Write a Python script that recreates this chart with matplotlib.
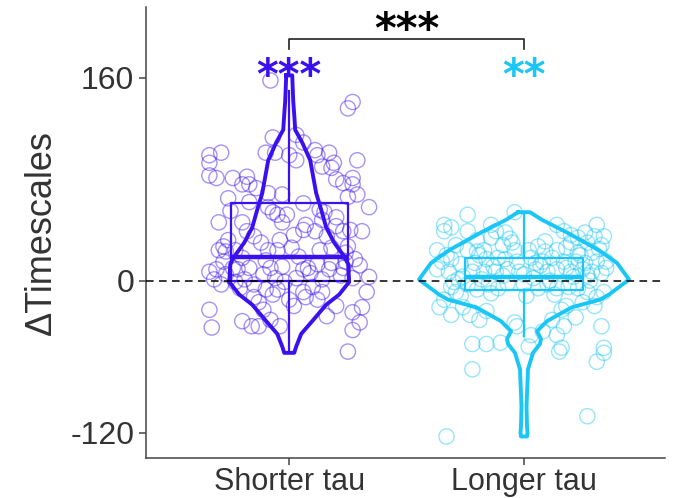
import matplotlib
matplotlib.use("Agg")
import matplotlib.pyplot as plt
import numpy as np

plt.rcParams['font.family'] = ['Liberation Sans', 'DejaVu Sans']
plt.rcParams['axes.unicode_minus'] = False

groups = ['Shorter tau', 'Longer tau']
colors = ['#3A10F0', '#19C6F5']

# jittered points (x offset from group centre, value)
short_jitter = [-0.08, 0.27, 0.25, -0.07, 0.03, 0.06, -0.34, -0.29, -0.34, -0.10, -0.06, 0.0, 0.03, 0.11, 0.12,
                0.17, 0.19, 0.29, -0.34, -0.31, -0.24, -0.18, -0.20, -0.17, -0.14, -0.09, -0.03, 0.14, 0.18, 0.20,
                0.23, 0.27, 0.27, 0.29, 0.25, 0.34, -0.26, -0.17, -0.09, -0.07, -0.05, -0.01, -0.03, 0.06, 0.13,
                0.15, 0.14, 0.20, -0.30, -0.20, -0.26, -0.28, -0.27, -0.30, -0.18, -0.15, -0.04, 0.02, 0.06, 0.07,
                0.11, 0.16, 0.20, 0.23, 0.26, 0.31, 0.25, 0.24, 0.18, 0.13, 0.01, -0.05, -0.09, -0.23,
                -0.34, -0.32, -0.29, -0.22, -0.17, -0.15, -0.11, -0.08, -0.03, -0.06, -0.02, 0.03, 0.06, 0.08,
                0.12, 0.17, 0.14, 0.10, 0.06, -0.05, -0.07, -0.10, -0.15, -0.13, -0.11, -0.20, -0.16, -0.13,
                -0.08, -0.04, -0.34, -0.33, 0.20, 0.27, 0.31, 0.27, 0.25, 0.33, 0.34, 0.27, 0.23, 0.24, 0.28,
                0.07, 0.12, 0.14, 0.0, -0.24, -0.27, -0.23, -0.19, -0.31, -0.20, -0.10, 0.04, 0.18, -0.28, 0.30,
                -0.21, 0.09, 0.22, -0.12, 0.16, -0.25, 0.02, 0.30]
short_vals = [158, 141, 136, 113, 115, 109, 99, 101, 93, 101, 101, 99, 95, 103, 99,
              101, 93, 95, 83, 81, 81, 82, 76, 76, 73, 69, 68, 90, 89, 80,
              77, 81, 76, 68, 66, 58, 65, 62, 58, 54, 52, 52, 46, 61, 56,
              54, 48, 50, 46, 46, 32, 27, 23, 24, 39, 35, 32, 36, 40, 44,
              39, 35, 43, 39, 40, 39, 27, 22, 26, 24, 26, 24, 24, 24,
              7, 1, -3, 9, 10, -3, 5, 10, 11, 2, -1, 2, 9, 10,
              13, 9, 1, -5, -9, -7, -11, -7, -13, -17, -23, -32, -36, -36,
              -31, -36, -23, -37, -20, -25, -21, -39, -56, -9, 3, 2, 10, 15, 17,
              -13, -15, -9, -15, 10, 5, -1, 1, 9, 18, 16, 19, 14, 15, 12,
              -6, 6, 4, 30, -28, 55, -20, -33]

long_jitter = [-0.04, -0.24, -0.34, -0.34, -0.31, -0.24, -0.14, -0.12, -0.14, -0.08, 0.14, 0.17, 0.20, 0.23,
               0.26, 0.31, 0.30, 0.34, 0.27, 0.33, -0.29, -0.37, -0.24, -0.20, -0.17, -0.09, -0.05, -0.04,
               0.02, 0.06, 0.09, 0.14, 0.18, 0.23, 0.29, -0.35, -0.31, -0.27, -0.21, -0.16, -0.11, -0.08,
               -0.03, 0.03, 0.08, 0.12, 0.17, 0.22, 0.26, 0.31, 0.35, -0.37, -0.32, -0.22, -0.17, -0.12,
               -0.07, -0.02, 0.05, 0.10, 0.14, 0.20, 0.25, 0.29, 0.33, 0.35,
               -0.31, -0.28, -0.34, -0.29, -0.24, -0.20, -0.15, -0.11, -0.07, 0.0, 0.06, 0.10, 0.14, 0.19,
               0.23, 0.27, 0.31, 0.34, -0.36, -0.31, -0.26, -0.23, -0.19, -0.16, -0.04, -0.03, 0.12, 0.16,
               0.18, 0.22, 0.25, 0.30, 0.33, 0.14, 0.17, -0.22, -0.16, -0.10, 0.03, 0.08, 0.02, 0.16, 0.34,
               -0.22, 0.31, 0.34, 0.27, -0.33, 0.15,
               -0.26, -0.18, -0.09, 0.04, 0.11, 0.21, -0.13, 0.07, 0.27, -0.30, 0.0, 0.18,
               -0.33, -0.20, -0.06, 0.09, 0.24, 0.32, -0.27, -0.14, 0.01, 0.13, 0.28, -0.19, 0.05, 0.20]
long_vals = [54, 52, 44, 39, 42, 39, 44, 39, 34, 38, 44, 39, 36, 34,
             38, 44, 35, 35, 30, 28, 28, 24, 24, 23, 24, 28, 30, 24,
             24, 27, 23, 24, 26, 22, 22, 15, 17, 13, 14, 17, 18, 17,
             15, 18, 15, 18, 15, 15, 14, 15, 10, 9, 7, 7, 7, 7,
             9, 7, 9, 7, 9, 7, 9, 7, 6, 15,
             -5, 1, -15, -9, -3, -7, -3, -6, -2, -3, -6, -3, -6, -5,
             -6, -9, -13, -9, -21, -27, -21, -27, -31, -24, -33, -36, -31, -23,
             -20, -29, -17, -20, -36, -43, -36, -50, -50, -49, -43, -40, -52, -53, -53,
             -70, -64, -57, -107, -123, -56,
             3, 1, 4, 2, 0, 3, 11, 12, 4, -1, 5, 10,
             20, 32, 33, 31, 20, 25, -12, -10, -12, -11, 0, 20, 14, 30]

# violin outlines: value and half width (density scaled to the drawn width)
short_dens_y = [162, 142, 131, 119, 109, 95, 69, 56, 42, 30, 19, 13, -1, -11, -19, -32, -42, -52, -57]
short_dens_w = [3, 4, 5, 6, 13, 21, 27, 32, 37, 45, 55, 59, 60, 50, 37, 23, 12, 7, 5]
long_dens_y = [54, 48, 38, 24, 14, 1, -1, -11, -15, -21, -28, -32, -40, -46, -50, -57, -70, -80, -99, -115, -120, -123]
long_dens_w = [6, 18, 43, 75, 93, 105, 102, 85, 76, 48, 32, 23, 13, 17, 16, 9, 4, 3.5, 2.5, 3, 3.5, 3]

# box summaries: whisker low, Q1, median, Q3, whisker high
short_box = [-56, 0, 19, 61, 150]
long_box = [-44, -7, 3, 18, 54]

fig = plt.figure(figsize=(6.75, 4.98), dpi=100)
ax = fig.add_axes([0.2163, 0.0803, 0.7687, 0.9057])

dens_y = [short_dens_y, long_dens_y]
dens_w = [short_dens_w, long_dens_w]
jit = [short_jitter, long_jitter]
vals = [short_vals, long_vals]
boxes = [short_box, long_box]
px_per_unit = 235.0

for i in range(2):
    pos = i + 1
    c = colors[i]
    ax.scatter(pos + np.array(jit[i]), vals[i], s=120, facecolors='none',
               edgecolors=c, alpha=0.45, linewidths=1.0, zorder=2)
    w = np.array(dens_w[i]) / px_per_unit
    yy = np.array(dens_y[i])
    xs = np.concatenate([pos - w, (pos + w)[::-1], [pos - w[0]]])
    ys = np.concatenate([yy, yy[::-1], [yy[0]]])
    ax.plot(xs, ys, color=c, lw=2.8, solid_joinstyle='round', zorder=3)
    b = boxes[i]
    st = dict(whislo=b[0], q1=b[1], med=b[2], q3=b[3], whishi=b[4], fliers=[])
    ax.bxp([st], positions=[pos], widths=0.5, showcaps=False, showfliers=False,
           boxprops=dict(color=c, lw=1.6), whiskerprops=dict(color=c, lw=1.6),
           medianprops=dict(color=c, lw=3.2), manage_ticks=False, zorder=4)

ax.axhline(0, color='black', lw=1.1, ls=(0, (5, 3.5)), zorder=5)

# significance marks
star_font = dict(family='DejaVu Sans', fontsize=30, fontweight='bold', ha='center', va='center')
ax.text(1, 161, '***', color=colors[0], **star_font)
ax.text(2, 161, '**', color=colors[1], **star_font)
ax.plot([1, 1, 2, 2], [183, 191, 191, 183], color='#222222', lw=1.2)
ax.text(1.5, 197, '***', color='black', **star_font)

ax.set_xlim(0.39, 2.6)
ax.set_ylim(-140, 216)
ax.set_xticks([1, 2])
ax.set_xticklabels(groups)
ax.set_yticks([-120, 0, 160])
ax.set_yticklabels(['-120', '0', '160'])
ax.set_ylabel('ΔTimescales', fontsize=26, color='#333333', labelpad=8)
ax.tick_params(labelsize=23, labelcolor='#333333', color='#444444', length=5, width=1.1)
ax.tick_params(axis='x', labelsize=22, pad=1.5)
for s in ['top', 'right']:
    ax.spines[s].set_visible(False)
for s in ['left', 'bottom']:
    ax.spines[s].set_color('#444444')
    ax.spines[s].set_linewidth(1.1)

fig.savefig('out.png', dpi=100)
